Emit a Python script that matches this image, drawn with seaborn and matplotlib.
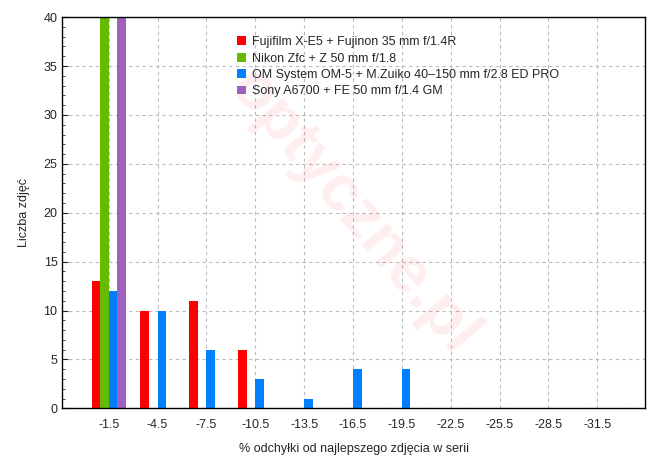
import matplotlib
matplotlib.use("Agg")
import matplotlib.pyplot as plt
import seaborn as sns
import pandas as pd
from matplotlib.ticker import MultipleLocator

categories = ["-1.5", "-4.5", "-7.5", "-10.5", "-13.5", "-16.5", "-19.5",
              "-22.5", "-25.5", "-28.5", "-31.5"]
series = ["Fujifilm X-E5 + Fujinon 35 mm f/1.4R",
          "Nikon Zfc + Z 50 mm f/1.8",
          "OM System OM-5 + M.Zuiko 40\u2013150 mm f/2.8 ED PRO",
          "Sony A6700 + FE 50 mm f/1.4 GM"]
fuji = [13, 10, 11, 6, 0, 0, 0, 0, 0, 0, 0]
nikon = [41, 0, 0, 0, 0, 0, 0, 0, 0, 0, 0]
om = [12, 10, 6, 3, 1, 4, 4, 0, 0, 0, 0]
sony = [41, 0, 0, 0, 0, 0, 0, 0, 0, 0, 0]
colors = ["#ff0000", "#66bb00", "#0080ff", "#a060c0"]

rows = []
for name, vals in zip(series, [fuji, nikon, om, sony]):
    for c, v in zip(categories, vals):
        rows.append({"cat": c, "val": v, "series": name})
df = pd.DataFrame(rows)

sns.set_style("white")
plt.rcParams['font.family'] = ['Liberation Sans', 'DejaVu Sans']
fig, ax = plt.subplots(figsize=(6.7, 4.63), dpi=100)
fig.subplots_adjust(left=0.093, right=0.963, top=0.963, bottom=0.118)

ax.text(0.5, 0.5, "optyczne.pl", transform=ax.transAxes, fontsize=46,
        fontweight="bold", color="#ff0000", alpha=0.07, rotation=-50,
        ha="center", va="center")

sns.barplot(data=df, x="cat", y="val", hue="series", palette=colors,
            width=0.7, dodge=True, ax=ax, saturation=1, legend=True,
            linewidth=0, edgecolor="none")

ax.set_ylim(0, 40)
ax.set_xlim(-0.95, 10.98)
ax.yaxis.set_major_locator(MultipleLocator(5))
ax.yaxis.set_minor_locator(MultipleLocator(1))
ax.tick_params(axis="y", which="both", direction="in", left=True, labelsize=9, length=4)
ax.tick_params(axis="y", which="minor", length=2)
ax.tick_params(axis="x", length=0, labelsize=9, pad=8)
ax.grid(True, which="major", color="#bbbbbb", linestyle=(0, (3, 3)), linewidth=0.8)
ax.set_axisbelow(True)
for s in ax.spines.values():
    s.set_color("black")
    s.set_linewidth(1)
ax.set_xlabel("% odchy\u0142ki od najlepszego zdj\u0119cia w serii", fontsize=9, labelpad=8)
ax.set_ylabel("Liczba zdj\u0119\u0107", fontsize=9, labelpad=10)

leg = ax.legend(loc="upper left", bbox_to_anchor=(0.28, 0.98), frameon=False,
                fontsize=9, handlelength=0.7, handleheight=0.7,
                handletextpad=0.5, labelspacing=0.35)

fig.savefig("out.png", dpi=100)
